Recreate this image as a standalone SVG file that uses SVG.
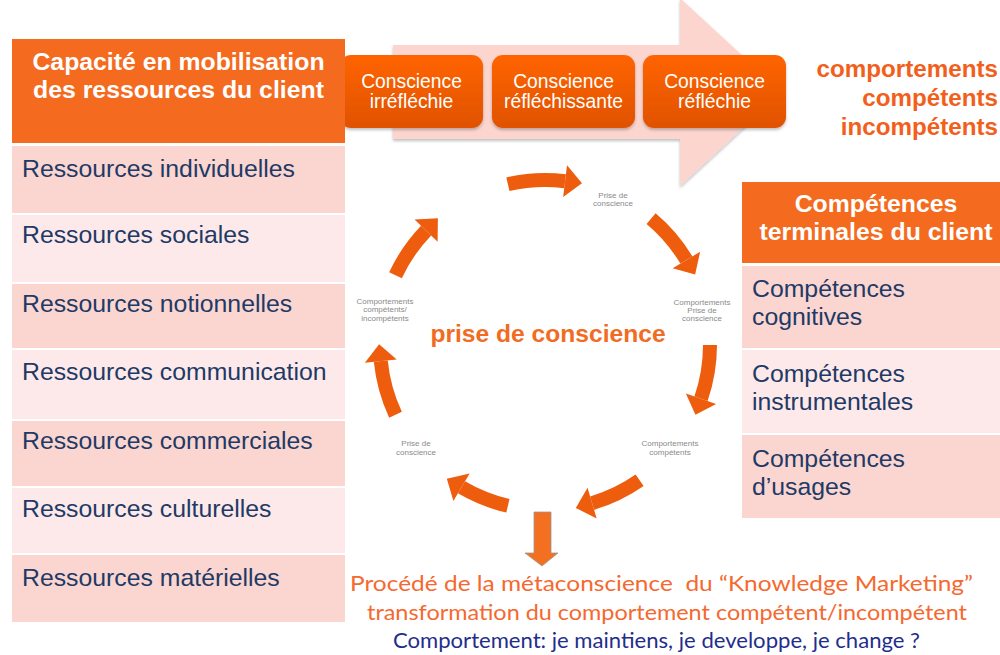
<svg xmlns="http://www.w3.org/2000/svg" width="1000" height="655" viewBox="0 0 1000 655">
  <defs>
    <style>
      .hdr { fill: #F46A1F; }
      .rowA { fill: #FBD5D0; }
      .rowB { fill: #FDE9E9; }
      .hdrTxt { font-family: "Liberation Sans", Arial, sans-serif; font-weight: bold; font-size: 24.8px; fill: #FFFFFF; text-anchor: middle; }
      .rowTxt { font-family: "Liberation Sans", Arial, sans-serif; font-size: 24.8px; fill: #1E3A66; }
      .boxTxt { font-family: "Liberation Sans", Arial, sans-serif; font-size: 19.3px; fill: #FFFFFF; text-anchor: middle; }
      .sideTxt { font-family: "Liberation Sans", Arial, sans-serif; font-weight: bold; font-size: 24.2px; fill: #F25F1C; text-anchor: end; }
      .small { font-family: "Liberation Sans", Arial, sans-serif; font-size: 8px; fill: #8A8A8A; text-anchor: middle; }
      .center { font-family: "Liberation Sans", Arial, sans-serif; font-weight: bold; font-size: 24.6px; fill: #F26B22; text-anchor: middle; }
      .bot { font-family: Lato, "Open Sans", sans-serif; font-size: 22px; fill: #F5692F; }
      .bot3 { font-family: Lato, "Open Sans", sans-serif; font-size: 21px; fill: #1F2E8C; }
      .cyc { fill: none; stroke: #EE5D0E; stroke-width: 14; marker-end: url(#head); }
    </style>
    <linearGradient id="boxGrad" x1="0" y1="0" x2="0" y2="1">
      <stop offset="0" stop-color="#FF6400"/>
      <stop offset="1" stop-color="#E05200"/>
    </linearGradient>
    <marker id="head" markerUnits="userSpaceOnUse" markerWidth="18" markerHeight="32" refX="0" refY="16" orient="auto" overflow="visible">
      <path d="M0,0 L17,16 L0,32 Z" fill="#EE5D0E"/>
    </marker>
    <filter id="shadow" x="-10%" y="-10%" width="120%" height="130%">
      <feDropShadow dx="0" dy="2" stdDeviation="1.5" flood-color="#000000" flood-opacity="0.25"/>
    </filter>
  </defs>

  <rect width="1000" height="655" fill="#FFFFFF"/>

  <!-- big pink arrow -->
  <g id="bigArrow">
    <polygon points="393,45 680,45 680,-2 782,92 680,186 680,139 393,139" fill="#FCD5CF" filter="url(#shadow)"/>
  </g>

  <!-- conscience boxes -->
  <g id="box1">
    <rect x="340" y="55" width="143" height="73" rx="11" fill="url(#boxGrad)" filter="url(#shadow)"/>
    <text class="boxTxt" x="411.5" y="88">Conscience</text>
    <text class="boxTxt" x="411.5" y="108">irréfléchie</text>
  </g>
  <g id="box2">
    <rect x="492" y="55" width="143" height="73" rx="11" fill="url(#boxGrad)" filter="url(#shadow)"/>
    <text class="boxTxt" x="563.5" y="88">Conscience</text>
    <text class="boxTxt" x="563.5" y="108">réfléchissante</text>
  </g>
  <g id="box3">
    <rect x="643" y="55" width="143" height="73" rx="11" fill="url(#boxGrad)" filter="url(#shadow)"/>
    <text class="boxTxt" x="714.5" y="88">Conscience</text>
    <text class="boxTxt" x="714.5" y="108">réfléchie</text>
  </g>

  <!-- side label -->
  <g id="sideLabel">
    <text class="sideTxt" x="998" y="77">comportements</text>
    <text class="sideTxt" x="998" y="106">compétents</text>
    <text class="sideTxt" x="998" y="135">incompétents</text>
  </g>

  <!-- left table -->
  <g id="leftTable">
    <rect class="hdr" x="12" y="39" width="333" height="104"/>
    <text class="hdrTxt" x="178.5" y="70">Capacité en mobilisation</text>
    <text class="hdrTxt" x="178.5" y="98">des ressources du client</text>
    <rect class="rowA" x="12" y="146" width="333" height="67"/>
    <text class="rowTxt" x="22" y="177">Ressources individuelles</text>
    <rect class="rowB" x="12" y="215" width="333" height="67"/>
    <text class="rowTxt" x="22" y="243">Ressources sociales</text>
    <rect class="rowA" x="12" y="284" width="333" height="64"/>
    <text class="rowTxt" x="22" y="312">Ressources notionnelles</text>
    <rect class="rowB" x="12" y="350" width="333" height="69"/>
    <text class="rowTxt" x="22" y="380">Ressources communication</text>
    <rect class="rowA" x="12" y="421" width="333" height="65"/>
    <text class="rowTxt" x="22" y="449">Ressources commerciales</text>
    <rect class="rowB" x="12" y="488" width="333" height="65"/>
    <text class="rowTxt" x="22" y="517">Ressources culturelles</text>
    <rect class="rowA" x="12" y="555" width="333" height="67"/>
    <text class="rowTxt" x="22" y="586">Ressources matérielles</text>
  </g>

  <!-- right table -->
  <g id="rightTable">
    <rect class="hdr" x="742" y="182" width="258" height="81"/>
    <text class="hdrTxt" x="876" y="212">Compétences</text>
    <text class="hdrTxt" x="876" y="240">terminales du client</text>
    <rect class="rowA" x="742" y="266" width="258" height="82"/>
    <text class="rowTxt" x="752" y="297">Compétences</text>
    <text class="rowTxt" x="752" y="325">cognitives</text>
    <rect class="rowB" x="742" y="350" width="258" height="83"/>
    <text class="rowTxt" x="752" y="382">Compétences</text>
    <text class="rowTxt" x="752" y="410">instrumentales</text>
    <rect class="rowA" x="742" y="435" width="258" height="83"/>
    <text class="rowTxt" x="752" y="467">Compétences</text>
    <text class="rowTxt" x="752" y="495">d’usages</text>
  </g>

  <!-- cycle connectors -->
  <g id="cycleConnectors">
    <path class="cyc" d="M507.9,184.2 A165,165 0 0 1 565.1,181.2"/>
    <path class="cyc" d="M651.1,218.6 A165,165 0 0 1 686.4,260.0"/>
    <path class="cyc" d="M710,345 A165,165 0 0 1 701.0,398.7"/>
    <path class="cyc" d="M639.6,480.2 A165,165 0 0 1 592.1,503.1"/>
    <path class="cyc" d="M507.9,505.8 A165,165 0 0 1 461.5,487.3"/>
    <path class="cyc" d="M395.5,414.7 A165,165 0 0 1 380.8,361.1"/>
    <path class="cyc" d="M395.5,275.3 A165,165 0 0 1 426.1,230.6"/>
    <polygon points="534,512 551,512 551,553 558,553 542,566 525,553 534,553" fill="#F37021" stroke="#9A9A9A" stroke-width="0.8"/>
  </g>

  <!-- cycle labels -->
  <g id="lbl1">
    <text class="small" x="613" y="198">Prise de</text>
    <text class="small" x="613" y="206">conscience</text>
  </g>
  <g id="lbl2">
    <text class="small" x="702" y="305">Comportements</text>
    <text class="small" x="702" y="313">Prise de</text>
    <text class="small" x="702" y="321">conscience</text>
  </g>
  <g id="lbl3">
    <text class="small" x="670" y="446">Comportements</text>
    <text class="small" x="670" y="455">compétents</text>
  </g>
  <g id="lbl4">
    <text class="small" x="416" y="446">Prise de</text>
    <text class="small" x="416" y="455">conscience</text>
  </g>
  <g id="lbl5">
    <text class="small" x="385" y="304">Comportements</text>
    <text class="small" x="385" y="312">compétents/</text>
    <text class="small" x="385" y="321">incompétents</text>
  </g>
  <g id="centerLabel">
    <text class="center" x="548" y="342">prise de conscience</text>
  </g>

  <!-- bottom text -->
  <g id="bottomText">
    <text class="bot" x="350" y="591" textLength="623" lengthAdjust="spacingAndGlyphs">Procédé de la métaconscience&#160; du “Knowledge Marketing”</text>
    <text class="bot" x="367" y="620" textLength="600" lengthAdjust="spacingAndGlyphs">transformation du comportement compétent/incompétent</text>
    <text class="bot3" x="393" y="648" textLength="527" lengthAdjust="spacingAndGlyphs">Comportement: je maintiens, je developpe, je change ?</text>
  </g>
</svg>
